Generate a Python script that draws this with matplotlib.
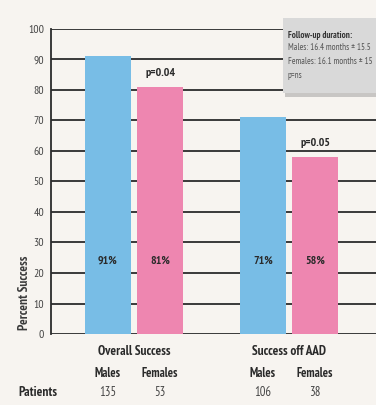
import matplotlib.pyplot as plt
from matplotlib.patches import Rectangle

GROUPS = ["Overall Success", "Success off AAD"]
SEXES = ["Males", "Females"]
MALE_PCT = [91, 71]
FEMALE_PCT = [81, 58]
MALE_N = [135, 106]
FEMALE_N = [53, 38]
P_VALUES = ["p=0.04", "p=0.05"]
Y_TICKS = [0, 10, 20, 30, 40, 50, 60, 70, 80, 90, 100]
BOX_LINES = ["Males: 16.4 months \u00b1 15.5", "Females: 16.1 months \u00b1 15", "p=ns"]

BG = "#f7f4f0"
BLUE = "#78bde6"
PINK = "#ee86b0"
GRID = "#2b2b2b"
TXT = "#2a2a2a"
FONT = ["PT Sans Narrow", "DejaVu Sans"]

plt.rcParams["font.family"] = FONT

fig = plt.figure(figsize=(3.76, 4.05), dpi=100, facecolor=BG)
W, H = 376, 405
ax = fig.add_axes([51 / W, 71 / H, (W - 51) / W, 305 / H])
ax.set_facecolor(BG)

bw = 0.297
off = 0.168
xs = [0, 1]
for i, x in enumerate(xs):
    ax.bar(x - off, MALE_PCT[i], width=bw, color=BLUE, zorder=3)
    ax.bar(x + off, FEMALE_PCT[i], width=bw, color=PINK, zorder=3)
    ax.text(x - off, 24, f"{MALE_PCT[i]}%", ha="center", va="center",
            fontsize=8.5, fontweight="bold", color=TXT, zorder=4)
    ax.text(x + off, 24, f"{FEMALE_PCT[i]}%", ha="center", va="center",
            fontsize=8.5, fontweight="bold", color=TXT, zorder=4)
    ax.text(x + off, FEMALE_PCT[i] + 3, P_VALUES[i], ha="center", va="bottom",
            fontsize=8.5, fontweight="bold", color=TXT, zorder=4)
    # labels under the chart
    ax.text(x, -5.9, GROUPS[i], ha="center", va="center", fontsize=9.5,
            fontweight="bold", color=TXT, clip_on=False)
    ax.text(x - off, -12.8, SEXES[0], ha="center", va="center", fontsize=9,
            fontweight="bold", color=TXT, clip_on=False)
    ax.text(x + off, -12.8, SEXES[1], ha="center", va="center", fontsize=9,
            fontweight="bold", color=TXT, clip_on=False)
    ax.text(x - off, -19.3, str(MALE_N[i]), ha="center", va="center",
            fontsize=9, color="#444444", clip_on=False)
    ax.text(x + off, -19.3, str(FEMALE_N[i]), ha="center", va="center",
            fontsize=9, color="#444444", clip_on=False)

ax.text(-0.748, -19.3, "Patients", ha="left", va="center", fontsize=9.5,
        fontweight="bold", color=TXT, clip_on=False)
ax.text(-0.703, 13.5, "Percent Success", rotation=90, ha="center", va="center",
        fontsize=9.5, fontweight="bold", color="#3a3a3a", clip_on=False)

for t in Y_TICKS:
    ax.axhline(t, color=GRID, lw=1.3, zorder=1)

ax.set_xlim(-0.535, 1.561)
ax.set_ylim(0, 100)
ax.set_yticks(Y_TICKS)
ax.set_xticks([])
ax.tick_params(axis="y", length=0, pad=5, labelsize=8.5, labelcolor="#444444")
for s in ["top", "right", "bottom"]:
    ax.spines[s].set_visible(False)
ax.spines["left"].set_color(GRID)
ax.spines["left"].set_linewidth(1.3)

# follow-up box
fig.patches.append(Rectangle((285 / W, (405 - 97) / H), 100 / W, 77 / H,
                             transform=fig.transFigure, facecolor="#9a9a9a",
                             alpha=0.5, edgecolor="none", zorder=5))
fig.patches.append(Rectangle((283 / W, (405 - 93) / H), 100 / W, 75 / H,
                             transform=fig.transFigure, facecolor="#d9d9d9",
                             edgecolor="none", zorder=6))
fig.text(288 / W, 1 - 35 / H, "Follow-up duration:", fontsize=6.5,
         fontweight="bold", color="#333333", va="center", zorder=7)
for k, line in enumerate(BOX_LINES):
    fig.text(288 / W, 1 - (48 + 14 * k) / H, line, fontsize=6.5,
             color="#555555", va="center", zorder=7)

fig.savefig("out.png", dpi=100, facecolor=BG)
